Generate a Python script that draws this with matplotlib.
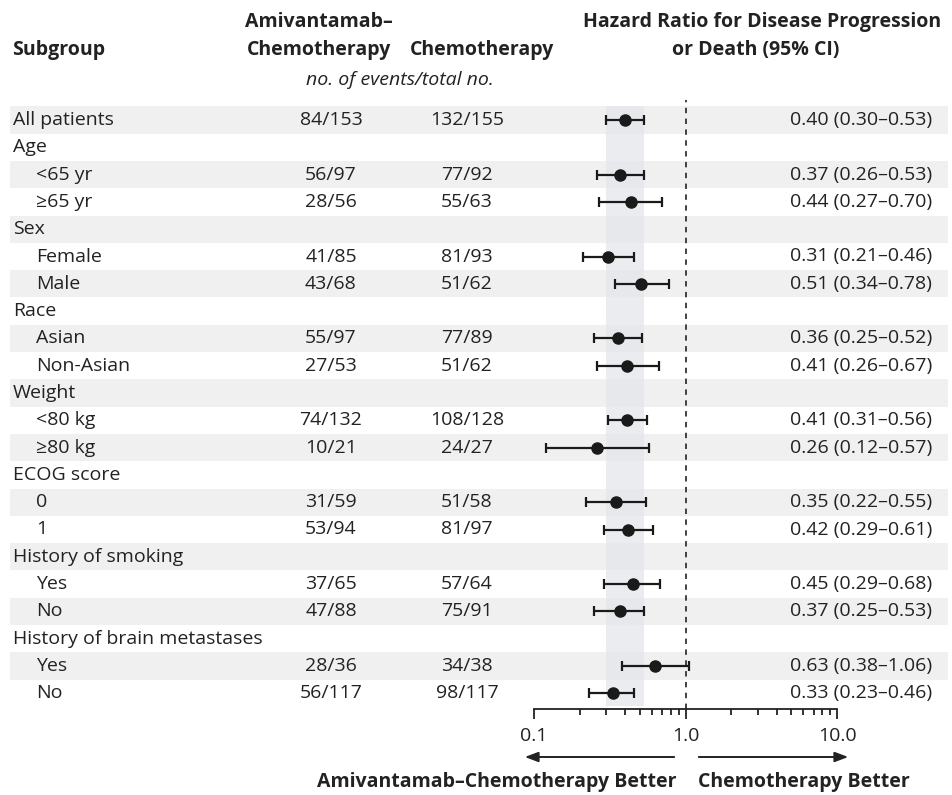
import matplotlib
matplotlib.use("Agg")
import matplotlib.pyplot as plt
import numpy as np
from matplotlib.patches import FancyArrowPatch
from matplotlib.ticker import FixedLocator, LogLocator, NullFormatter

plt.rcParams["font.family"] = ["Open Sans", "DejaVu Sans"]

LABELS = [
    "All patients", "Age", "<65 yr", "≥65 yr", "Sex", "Female", "Male",
    "Race", "Asian", "Non-Asian", "Weight", "<80 kg", "≥80 kg",
    "ECOG score", "0", "1", "History of smoking", "Yes", "No",
    "History of brain metastases", "Yes", "No",
]
INDENT = [0, 0, 1, 1, 0, 1, 1, 0, 1, 1, 0, 1, 1, 0, 1, 1, 0, 1, 1, 0, 1, 1]
AMI = [
    "84/153", "", "56/97", "28/56", "", "41/85", "43/68", "", "55/97", "27/53",
    "", "74/132", "10/21", "", "31/59", "53/94", "", "37/65", "47/88", "",
    "28/36", "56/117",
]
CHEMO = [
    "132/155", "", "77/92", "55/63", "", "81/93", "51/62", "", "77/89", "51/62",
    "", "108/128", "24/27", "", "51/58", "81/97", "", "57/64", "75/91", "",
    "34/38", "98/117",
]
HR = [0.40, None, 0.37, 0.44, None, 0.31, 0.51, None, 0.36, 0.41, None, 0.41,
      0.26, None, 0.35, 0.42, None, 0.45, 0.37, None, 0.63, 0.33]
LO = [0.30, None, 0.26, 0.27, None, 0.21, 0.34, None, 0.25, 0.26, None, 0.31,
      0.12, None, 0.22, 0.29, None, 0.29, 0.25, None, 0.38, 0.23]
HI = [0.53, None, 0.53, 0.70, None, 0.46, 0.78, None, 0.52, 0.67, None, 0.56,
      0.57, None, 0.55, 0.61, None, 0.68, 0.53, None, 1.06, 0.46]
TICKS = [0.1, 1.0, 10.0]
TICK_LABELS = ["0.1", "1.0", "10.0"]

TXT = "#222222"
W, H = 953, 795
ROW0, ROWH = 120, 27.3  # pixel centre of first row, row pitch


def fy(pix):
    return 1 - pix / H


def fx(pix):
    return pix / W


fig = plt.figure(figsize=(W / 100, H / 100), dpi=100)
fig.patch.set_facecolor("white")

# background axes: x in pixels, y in row units
bg = fig.add_axes([0, 0, 1, 1])
bg.set_xlim(0, W)
bg.set_ylim((H - ROW0) / ROWH, -ROW0 / ROWH)
bg.axis("off")

rows = np.arange(len(LABELS))
for i in rows:
    if i % 2 == 0:
        bg.barh(i, 938, left=10, height=1.0, color="#f0f0f0", zorder=0)
    bg.text(13 + 23 * INDENT[i], i, LABELS[i], ha="left", va="center",
            fontsize=14, color=TXT)
    bg.text(331, i, AMI[i], ha="center", va="center", fontsize=14, color=TXT)
    bg.text(467, i, CHEMO[i], ha="center", va="center", fontsize=14, color=TXT)
    if HR[i] is not None:
        bg.text(932, i, f"{HR[i]:.2f} ({LO[i]:.2f}\u2013{HI[i]:.2f})",
                ha="right", va="center", fontsize=14, color=TXT)

# forest axes
ax = fig.add_axes([fx(534), fy(709), fx(837 - 534), (709 - 100) / H])
ax.set_xscale("log")
ax.set_xlim(TICKS[0], TICKS[-1])
ax.set_ylim((709 - ROW0) / ROWH, (100 - ROW0) / ROWH)
ax.patch.set_alpha(0)
ax.axvspan(LO[0], HI[0], ymin=0.005, ymax=0.99, color="#e2e5ea", alpha=0.7,
           lw=0, zorder=1)
ax.axvline(1.0, color="#333333", lw=1.3, ls=(0, (3, 3)), zorder=2)

hr = np.array([h for h in HR if h is not None])
lo = np.array([v for v in LO if v is not None])
hi = np.array([v for v in HI if v is not None])
yy = np.array([i for i in rows if HR[i] is not None])
ax.errorbar(hr, yy, xerr=[hr - lo, hi - hr], fmt="o", color="#1a1a1a",
            ms=8, capsize=3.5, elinewidth=1.6, capthick=1.6, zorder=3)

for s in ["top", "right", "left"]:
    ax.spines[s].set_visible(False)
ax.spines["bottom"].set_color("#222222")
ax.spines["bottom"].set_linewidth(1.3)
ax.set_yticks([])
ax.xaxis.set_major_locator(FixedLocator(TICKS))
ax.set_xticklabels(TICK_LABELS)
ax.xaxis.set_minor_locator(LogLocator(base=10, subs=np.arange(2, 10)))
ax.xaxis.set_minor_formatter(NullFormatter())
ax.tick_params(axis="x", which="major", length=7, width=1.3, color="#222222",
               labelsize=14, labelcolor=TXT, pad=6)
ax.tick_params(axis="x", which="minor", length=4, width=1.3, color="#222222")

# headers
hb = dict(fontsize=14, fontweight="bold", color=TXT)
fig.text(fx(12), fy(50), "Subgroup", ha="left", va="center", **hb)
fig.text(fx(319), fy(22), "Amivantamab\u2013", ha="center", va="center", **hb)
fig.text(fx(319), fy(50), "Chemotherapy", ha="center", va="center", **hb)
fig.text(fx(482), fy(50), "Chemotherapy", ha="center", va="center", **hb)
fig.text(fx(400), fy(80), "no. of events/total no.", ha="center", va="center",
         fontsize=14, style="italic", color=TXT)
fig.text(fx(762), fy(22), "Hazard Ratio for Disease Progression", ha="center",
         va="center", **hb)
fig.text(fx(756), fy(50), "or Death (95% CI)", ha="center", va="center", **hb)

# direction arrows
for start, end in [(677, 522), (696, 851)]:
    fig.add_artist(FancyArrowPatch(
        (fx(start), fy(757)), (fx(end), fy(757)), transform=fig.transFigure,
        arrowstyle="-|>,head_length=8,head_width=3", color="#222222", lw=1.4))
fig.text(fx(677), fy(782), "Amivantamab\u2013Chemotherapy Better", ha="right",
         va="center", **hb)
fig.text(fx(698), fy(782), "Chemotherapy Better", ha="left", va="center", **hb)

fig.savefig("out.png", dpi=100, facecolor="white")
